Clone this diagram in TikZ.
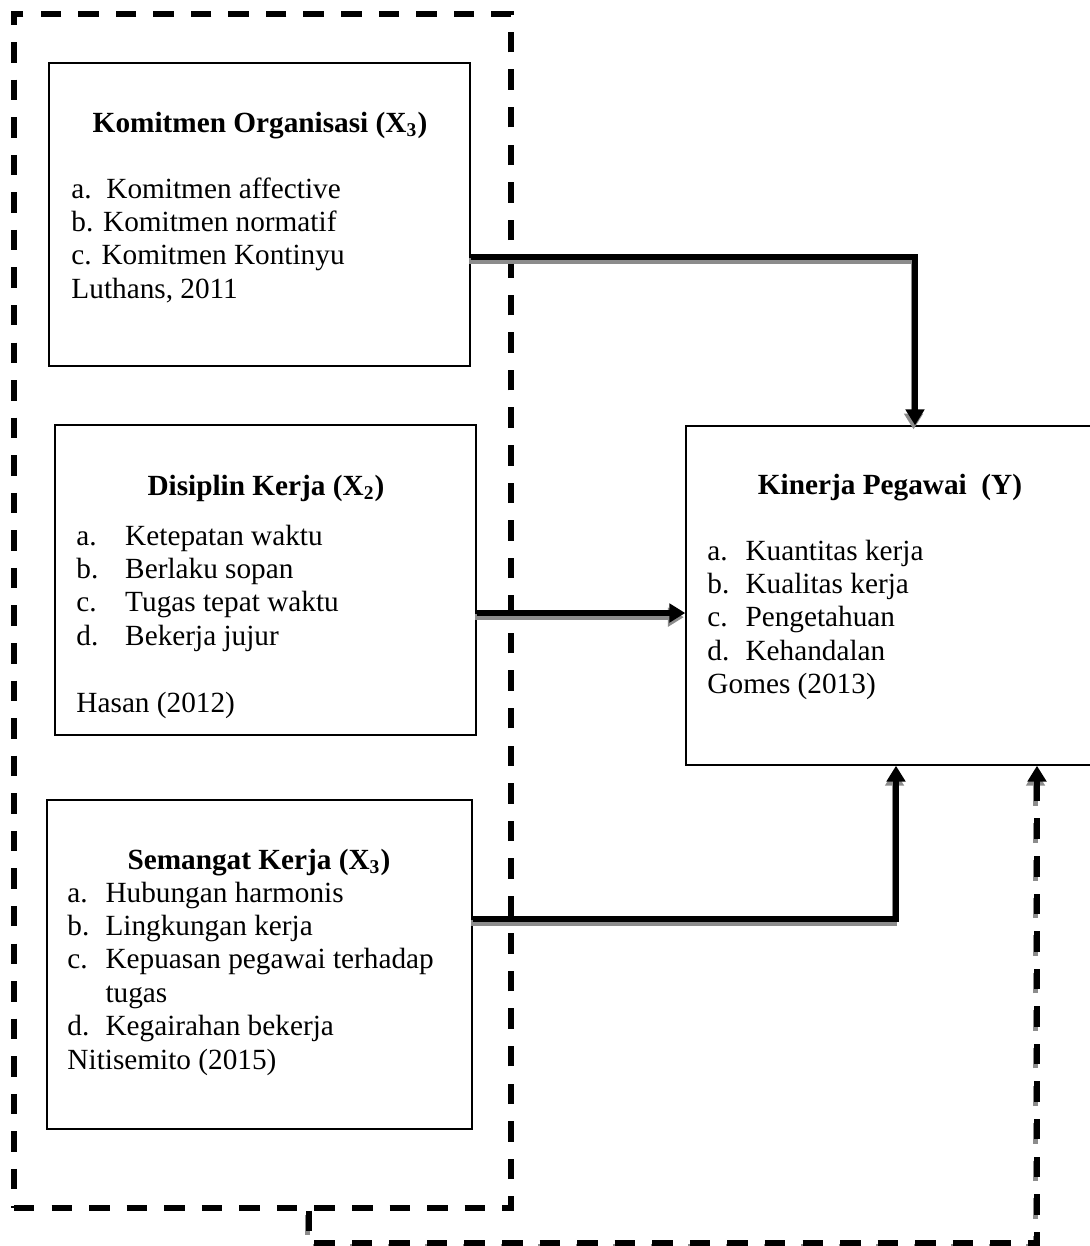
\documentclass[tikz,border=0pt]{standalone}
\usepackage{fontspec}
\setmainfont{Liberation Serif}
\usetikzlibrary{arrows.meta,fit}

\begin{document}
\begin{tikzpicture}[x=0.41pt,y=-0.41pt,
  font=\fontsize{12}{13.7}\selectfont,
  box/.style={draw,line width=0.6pt,inner sep=0pt},
  title/.style={anchor=base,inner sep=0pt,font=\fontsize{12}{13.7}\selectfont\bfseries},
  items/.style={anchor=base west,inner sep=0pt},
  link/.style={draw,-{Triangle[length=6.5pt,width=7.5pt]},line width=2.3pt},
  dash link/.style={link,dash pattern=on 8.4pt off 7pt},
  shadow/.style={draw=black!45,transform canvas={shift={(-0.6pt,-1.7pt)}}},
  plain/.style={draw=black},
  group box/.style={draw,line width=2.2pt,dash pattern=on 8.4pt off 7pt,inner sep=0pt}]

  \useasboundingbox (0,0) rectangle (1090,1246);
  \clip (0,0) rectangle (1090,1246);

  \node[group box,fit={(14,14) (511,1208)}] (group) {};

  \node[box,fit={(49,63) (470,366)}] (komitmen) {};
  \node[box,fit={(55,425) (476,735)}] (disiplin) {};
  \node[box,fit={(47,800) (472,1129)}] (semangat) {};
  \node[box,fit={(686,426) (1110,765)}] (kinerja) {};

  \node[title] (komitmenT) at (260,132) {Komitmen Organisasi (X\textsubscript{3})};
  \node[items] (komitmenL) at (71,198) {\begin{tabular}[t]{@{}l@{}}
    a.\ \ Komitmen affective\\ b. Komitmen normatif\\ c. Komitmen Kontinyu\\ Luthans, 2011
  \end{tabular}};

  \node[title] (disiplinT) at (266,495) {Disiplin Kerja (X\textsubscript{2})};
  \node[items] (disiplinL) at (76,545) {\begin{tabular}[t]{@{}p{20pt}@{}l@{}}
    a. & Ketepatan waktu\\ b. & Berlaku sopan\\ c. & Tugas tepat waktu\\ d. & Bekerja jujur\\
    & \\ \multicolumn{2}{@{}l@{}}{Hasan (2012)}
  \end{tabular}};

  \node[title] (semangatT) at (259,869) {Semangat Kerja (X\textsubscript{3})};
  \node[items] (semangatL) at (67,902) {\begin{tabular}[t]{@{}p{15.6pt}@{}l@{}}
    a. & Hubungan harmonis\\ b. & Lingkungan kerja\\ c. & Kepuasan pegawai terhadap\\
    & tugas\\ d. & Kegairahan bekerja\\ \multicolumn{2}{@{}l@{}}{Nitisemito (2015)}
  \end{tabular}};

  \node[title] (kinerjaT) at (890,494) {Kinerja Pegawai\ \ (Y)};
  \node[items] (kinerjaL) at (707,560) {\begin{tabular}[t]{@{}p{15.6pt}@{}l@{}}
    a. & Kuantitas kerja\\ b. & Kualitas kerja\\ c. & Pengetahuan\\ d. & Kehandalan\\
    \multicolumn{2}{@{}l@{}}{Gomes (2013)}
  \end{tabular}};

  \coordinate (k1) at (915,257);
  \coordinate (d1) at (600,613);
  \coordinate (s1) at (896,919);
  \coordinate (g1) at (309,1243);
  \coordinate (g2) at (1037,1243);

  % grey copy first, then the black line on top
  \foreach \look in {shadow,plain} {
    \path[link,\look] (komitmen.east |- k1) -| (kinerja.north -| k1);
    \path[link,\look] (disiplin.east |- d1) -- (kinerja.west |- d1);
    \path[link,\look] (semangat.east |- s1) -| (kinerja.south -| s1);
    \path[dash link,\look] (group.south -| g1) -- (g1) -- (g2) -- (kinerja.south -| g2);
  }
\end{tikzpicture}
\end{document}
